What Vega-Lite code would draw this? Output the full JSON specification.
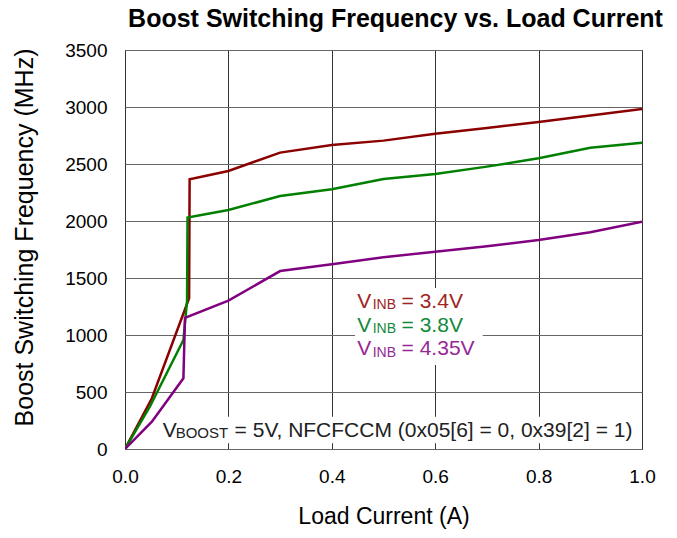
{
  "$schema": "https://vega.github.io/schema/vega-lite/v6.json",
  "autosize": "none",
  "width": 517,
  "height": 399,
  "padding": {"left": 125, "top": 50, "right": 35, "bottom": 89},
  "background": "white",
  "config": {
    "font": "Liberation Sans",
    "view": {"stroke": "black", "strokeWidth": 1},
    "axis": {"domain": false, "ticks": false, "labelColor": "black", "titleColor": "black", "titleFontWeight": "normal"}
  },
  "title": {
    "text": "Boost Switching Frequency vs. Load Current",
    "fontSize": 25,
    "fontWeight": "bold",
    "font": "Liberation Sans",
    "anchor": "middle",
    "dx": 12,
    "offset": 9,
    "color": "black"
  },
  "data": {
    "values": [
      {"s": "3.4V", "x": 0, "y": 0},
      {"s": "3.4V", "x": 0.052, "y": 445},
      {"s": "3.4V", "x": 0.124, "y": 1322},
      {"s": "3.4V", "x": 0.125, "y": 2366},
      {"s": "3.4V", "x": 0.2, "y": 2439},
      {"s": "3.4V", "x": 0.3, "y": 2600},
      {"s": "3.4V", "x": 0.4, "y": 2667},
      {"s": "3.4V", "x": 0.5, "y": 2705},
      {"s": "3.4V", "x": 0.6, "y": 2766},
      {"s": "3.4V", "x": 0.7, "y": 2816},
      {"s": "3.4V", "x": 0.8, "y": 2868},
      {"s": "3.4V", "x": 0.9, "y": 2925},
      {"s": "3.4V", "x": 1.0, "y": 2982},
      {"s": "3.8V", "x": 0, "y": 0},
      {"s": "3.8V", "x": 0.048, "y": 371},
      {"s": "3.8V", "x": 0.113, "y": 956},
      {"s": "3.8V", "x": 0.12, "y": 1300},
      {"s": "3.8V", "x": 0.121, "y": 2030},
      {"s": "3.8V", "x": 0.2, "y": 2096},
      {"s": "3.8V", "x": 0.3, "y": 2219},
      {"s": "3.8V", "x": 0.4, "y": 2278},
      {"s": "3.8V", "x": 0.5, "y": 2368},
      {"s": "3.8V", "x": 0.6, "y": 2412},
      {"s": "3.8V", "x": 0.7, "y": 2477},
      {"s": "3.8V", "x": 0.8, "y": 2550},
      {"s": "3.8V", "x": 0.9, "y": 2643},
      {"s": "3.8V", "x": 1.0, "y": 2687},
      {"s": "4.35V", "x": 0, "y": 0},
      {"s": "4.35V", "x": 0.052, "y": 240},
      {"s": "4.35V", "x": 0.113, "y": 620},
      {"s": "4.35V", "x": 0.116, "y": 1150},
      {"s": "4.35V", "x": 0.2, "y": 1301},
      {"s": "4.35V", "x": 0.3, "y": 1561},
      {"s": "4.35V", "x": 0.4, "y": 1620},
      {"s": "4.35V", "x": 0.5, "y": 1682},
      {"s": "4.35V", "x": 0.6, "y": 1731},
      {"s": "4.35V", "x": 0.7, "y": 1778},
      {"s": "4.35V", "x": 0.8, "y": 1833},
      {"s": "4.35V", "x": 0.9, "y": 1901},
      {"s": "4.35V", "x": 1.0, "y": 1994}
    ]
  },
  "layer": [
    {
      "data": {"values": [{}]},
      "mark": {"type": "rect", "fill": "white", "stroke": null},
      "encoding": {
        "x": {"datum": 0.06, "type": "quantitative"},
        "x2": {"datum": 0.998},
        "y": {"datum": 50, "type": "quantitative"},
        "y2": {"datum": 282}
      }
    },
    {
      "data": {"values": [{}]},
      "mark": {"type": "rect", "fill": "white", "stroke": null},
      "encoding": {
        "x": {"datum": 0.445, "type": "quantitative"},
        "x2": {"datum": 0.692},
        "y": {"datum": 737, "type": "quantitative"},
        "y2": {"datum": 1412}
      }
    },
    {
      "mark": {"type": "line", "strokeWidth": 2.5, "clip": true},
      "encoding": {
        "x": {
          "field": "x", "type": "quantitative",
          "scale": {"domain": [0, 1], "nice": false, "zero": false},
          "axis": {
            "title": "Load Current (A)", "values": [0, 0.2, 0.4, 0.6, 0.8, 1.0], "format": ".1f",
            "labelFontSize": 19, "labelPadding": 18, "labelFlush": false, "titleFontSize": 23, "titlePadding": 19,
            "grid": true, "gridColor": "#333333", "gridWidth": 1, "gridOpacity": 1
          }
        },
        "y": {
          "field": "y", "type": "quantitative",
          "scale": {"domain": [0, 3500], "nice": false},
          "axis": {
            "title": "Boost Switching Frequency (MHz)", "values": [0, 500, 1000, 1500, 2000, 2500, 3000, 3500],
            "format": "d", "labelFlush": false,
            "labelFontSize": 19, "labelPadding": 18, "titleFontSize": 25, "titleLimit": 800, "titleX": -88, "titleY": 187,
            "grid": true, "gridColor": "#666666", "gridWidth": 1, "gridOpacity": 1
          }
        },
        "color": {
          "field": "s", "type": "nominal",
          "scale": {"domain": ["3.4V", "3.8V", "4.35V"], "range": ["#8b0000", "#008000", "#800080"]},
          "legend": null
        },
        "detail": {"field": "s"}
      }
    },
    {
      "data": {"values": [{}]},
      "mark": {"type": "text", "align": "left", "baseline": "alphabetic", "fontSize": 21, "color": "#9e2424"},
      "encoding": {"x": {"datum": 0.449, "type": "quantitative"}, "y": {"datum": 1237, "type": "quantitative"}, "text": {"value": "V"}}
    },
    {
      "data": {"values": [{}]},
      "mark": {"type": "text", "align": "left", "baseline": "alphabetic", "fontSize": 14, "color": "#9e2424"},
      "encoding": {"x": {"datum": 0.479, "type": "quantitative"}, "y": {"datum": 1225, "type": "quantitative"}, "text": {"value": "INB"}}
    },
    {
      "data": {"values": [{}]},
      "mark": {"type": "text", "align": "left", "baseline": "alphabetic", "fontSize": 21, "color": "#9e2424"},
      "encoding": {"x": {"datum": 0.535, "type": "quantitative"}, "y": {"datum": 1237, "type": "quantitative"}, "text": {"value": "= 3.4V"}}
    },
    {
      "data": {"values": [{}]},
      "mark": {"type": "text", "align": "left", "baseline": "alphabetic", "fontSize": 21, "color": "#128a3a"},
      "encoding": {"x": {"datum": 0.449, "type": "quantitative"}, "y": {"datum": 1030, "type": "quantitative"}, "text": {"value": "V"}}
    },
    {
      "data": {"values": [{}]},
      "mark": {"type": "text", "align": "left", "baseline": "alphabetic", "fontSize": 14, "color": "#128a3a"},
      "encoding": {"x": {"datum": 0.479, "type": "quantitative"}, "y": {"datum": 1018, "type": "quantitative"}, "text": {"value": "INB"}}
    },
    {
      "data": {"values": [{}]},
      "mark": {"type": "text", "align": "left", "baseline": "alphabetic", "fontSize": 21, "color": "#128a3a"},
      "encoding": {"x": {"datum": 0.535, "type": "quantitative"}, "y": {"datum": 1030, "type": "quantitative"}, "text": {"value": "= 3.8V"}}
    },
    {
      "data": {"values": [{}]},
      "mark": {"type": "text", "align": "left", "baseline": "alphabetic", "fontSize": 21, "color": "#962896"},
      "encoding": {"x": {"datum": 0.449, "type": "quantitative"}, "y": {"datum": 823, "type": "quantitative"}, "text": {"value": "V"}}
    },
    {
      "data": {"values": [{}]},
      "mark": {"type": "text", "align": "left", "baseline": "alphabetic", "fontSize": 14, "color": "#962896"},
      "encoding": {"x": {"datum": 0.479, "type": "quantitative"}, "y": {"datum": 811, "type": "quantitative"}, "text": {"value": "INB"}}
    },
    {
      "data": {"values": [{}]},
      "mark": {"type": "text", "align": "left", "baseline": "alphabetic", "fontSize": 21, "color": "#962896"},
      "encoding": {"x": {"datum": 0.535, "type": "quantitative"}, "y": {"datum": 823, "type": "quantitative"}, "text": {"value": "= 4.35V"}}
    },
    {
      "data": {"values": [{}]},
      "mark": {"type": "text", "align": "left", "baseline": "alphabetic", "fontSize": 21, "color": "#222222"},
      "encoding": {"x": {"datum": 0.073, "type": "quantitative"}, "y": {"datum": 108, "type": "quantitative"}, "text": {"value": "V"}}
    },
    {
      "data": {"values": [{}]},
      "mark": {"type": "text", "align": "left", "baseline": "alphabetic", "fontSize": 15, "color": "#222222"},
      "encoding": {"x": {"datum": 0.098, "type": "quantitative"}, "y": {"datum": 98, "type": "quantitative"}, "text": {"value": "BOOST"}}
    },
    {
      "data": {"values": [{}]},
      "mark": {"type": "text", "align": "left", "baseline": "alphabetic", "fontSize": 21, "color": "#222222"},
      "encoding": {"x": {"datum": 0.212, "type": "quantitative"}, "y": {"datum": 108, "type": "quantitative"}, "text": {"value": "= 5V, NFCFCCM (0x05[6] = 0, 0x39[2] = 1)"}}
    }
  ]
}
